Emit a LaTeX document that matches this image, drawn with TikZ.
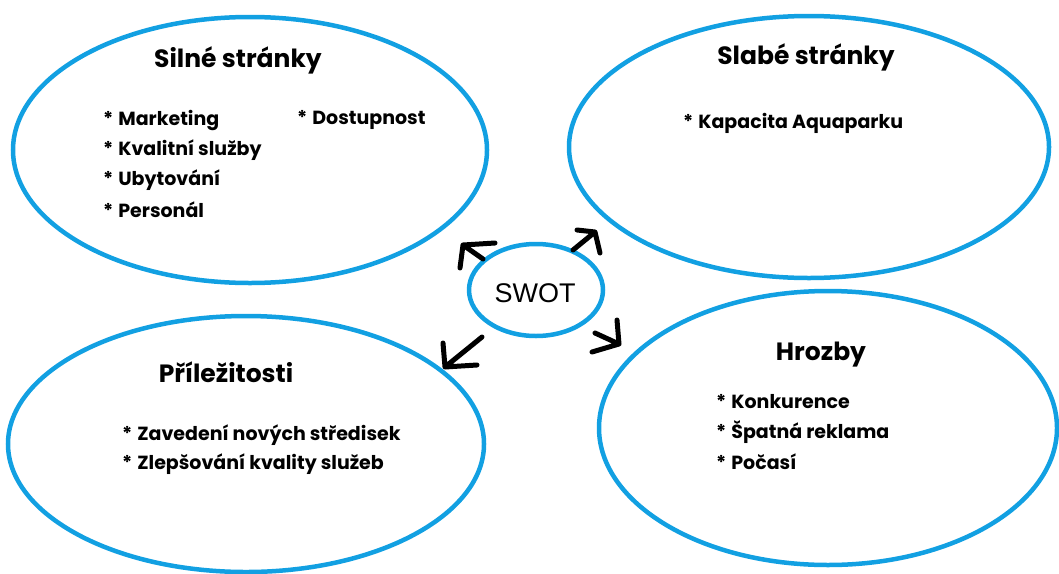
\documentclass[tikz,border=0pt]{standalone}
\usepackage{fontspec}
\setmainfont{Poppins}
\newfontfamily\swotfont{Liberation Sans}
\usetikzlibrary{shapes.geometric}
\definecolor{swotblue}{RGB}{18,160,226}
\newcommand{\itm}[1]{*\hspace{5pt}#1}
\tikzset{
  bubble/.style={ellipse, draw=swotblue, line width=4.5pt, inner sep=0pt},
  ttl/.style={font=\fontsize{25}{28}\selectfont\bfseries, anchor=center},
  item/.style={font=\fontsize{19}{21}\selectfont\bfseries, anchor=west, inner sep=0pt},
  harrow/.style={draw=black, line width=5pt, line cap=round, line join=round}
}
\begin{document}
\begin{tikzpicture}[x=1pt,y=-1pt]
\useasboundingbox (0,0) rectangle (1059,573);
% ellipses
\node[bubble, minimum width=474pt, minimum height=266pt] (S) at (250,150) {};
\node[bubble, minimum width=480pt, minimum height=262pt] (W) at (809,147) {};
\node[bubble, minimum width=476pt, minimum height=256pt] (O) at (246,444) {};
\node[bubble, minimum width=458pt, minimum height=274pt] (T) at (828,428) {};
\node[bubble, minimum width=134pt, minimum height=92pt] (C) at (536,290) {};
\node[font=\fontsize{27}{29}\selectfont\swotfont] (Ct) at (535,293) {SWOT};
% titles
\node[ttl] (St) at (238,60) {Silné stránky};
\node[ttl] (Wt) at (806,57) {Slabé stránky};
\node[ttl] (Ot) at (226,372) {Příležitosti};
\node[ttl] (Tt) at (821,355) {Hrozby};
% items
\node[item] (s1) at (103,120) {\itm{Marketing}};
\node[item] (s2) at (103,150) {\itm{Kvalitní služby}};
\node[item] (s3) at (103,180) {\itm{Ubytování}};
\node[item] (s4) at (103,210) {\itm{Personál}};
\node[item] (s5) at (297,120) {\itm{Dostupnost}};
\node[item] (w1) at (683,123) {\itm{Kapacita Aquaparku}};
\node[item] (o1) at (122,435) {\itm{Zavedení nových středisek}};
\node[item] (o2) at (122,464) {\itm{Zlepšování kvality služeb}};
\node[item] (t1) at (716,402) {\itm{Konkurence}};
\node[item] (t2) at (716,432) {\itm{Špatná reklama}};
\node[item] (t3) at (716,462) {\itm{Počasí}};
% arrows
\coordinate (a1s) at (483,259); \coordinate (a1t) at (463,245);
\coordinate (a1h) at (495,243); \coordinate (a1k) at (460,268);
\draw[harrow] (a1s) -- (a1t) (a1h) -- (a1t) -- (a1k);
\coordinate (a2s) at (573,250); \coordinate (a2t) at (595,232);
\coordinate (a2h) at (577,230); \coordinate (a2k) at (600,253);
\draw[harrow] (a2s) -- (a2t) (a2h) -- (a2t) -- (a2k);
\coordinate (a3s) at (595,333); \coordinate (a3t) at (619,344);
\coordinate (a3h) at (617,320); \coordinate (a3k) at (592,352);
\draw[harrow] (a3s) -- (a3t) (a3h) -- (a3t) -- (a3k);
\coordinate (a4s) at (482,337); \coordinate (a4t) at (445,367);
\coordinate (a4h) at (443,343); \coordinate (a4k) at (477,365);
\draw[harrow] (a4s) -- (a4t) (a4h) -- (a4t) -- (a4k);
\end{tikzpicture}
\end{document}
